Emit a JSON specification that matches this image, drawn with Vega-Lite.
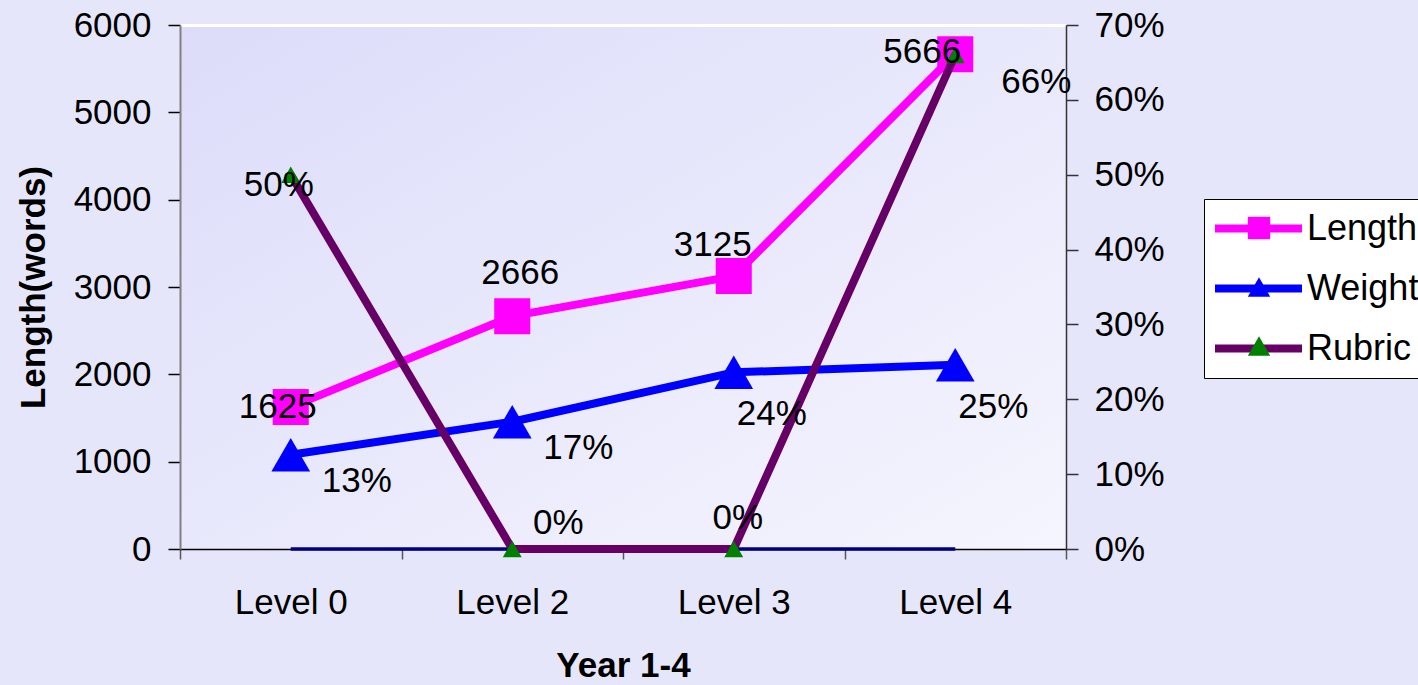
{
  "$schema": "https://vega.github.io/schema/vega-lite/v6.json",
  "autosize": {"type": "none"},
  "padding": {"left": 180, "top": 25, "right": 352, "bottom": 136},
  "width": 886,
  "height": 524,
  "background": "#e6e6fb",
  "datasets": {
    "rows": [
      {"level": "Level 0", "series": "Length", "value": 1625},
      {"level": "Level 2", "series": "Length", "value": 2666},
      {"level": "Level 3", "series": "Length", "value": 3125},
      {"level": "Level 4", "series": "Length", "value": 5666},
      {"level": "Level 0", "series": "Weight", "value": 0.126},
      {"level": "Level 2", "series": "Weight", "value": 0.17},
      {"level": "Level 3", "series": "Weight", "value": 0.236},
      {"level": "Level 4", "series": "Weight", "value": 0.246},
      {"level": "Level 0", "series": "Rubric", "value": 0.5},
      {"level": "Level 2", "series": "Rubric", "value": 0},
      {"level": "Level 3", "series": "Rubric", "value": 0},
      {"level": "Level 4", "series": "Rubric", "value": 0.66},
      {"level": "Level 0", "series": "Baseline", "value": 0},
      {"level": "Level 2", "series": "Baseline", "value": 0},
      {"level": "Level 3", "series": "Baseline", "value": 0},
      {"level": "Level 4", "series": "Baseline", "value": 0}
    ]
  },
  "data": {"name": "rows"},
  "config": {
    "view": {
      "stroke": null,
      "fill": {
        "gradient": "linear", "x1": 0, "y1": 0, "x2": 1, "y2": 1,
        "stops": [{"offset": 0, "color": "#dcdcfa"}, {"offset": 1, "color": "#f5f5fe"}]
      }
    },
    "font": "Liberation Sans",
    "axis": {
      "labelFont": "Liberation Sans", "labelFontSize": 35, "labelColor": "#000",
      "titleFont": "Liberation Sans", "titleFontSize": 35, "titleFontWeight": "bold", "titleColor": "#000",
      "grid": false
    },
    "legend": {"labelFont": "Liberation Sans", "labelFontSize": 36, "labelColor": "#000"},
    "text": {"font": "Liberation Sans", "fontSize": 35, "color": "#000"}
  },
  "encoding": {
    "x": {
      "field": "level", "type": "nominal",
      "sort": ["Level 0", "Level 2", "Level 3", "Level 4"],
      "scale": {"paddingInner": 0, "paddingOuter": 0},
      "axis": {
        "title": "Year 1-4", "labelAngle": 0, "tickBand": "extent",
        "domainColor": "#000", "domainWidth": 1.5, "tickColor": "#555", "tickWidth": 1.5,
        "tickSize": 10, "labelPadding": 26, "titlePadding": 28
      }
    }
  },
  "layer": [
    {
      "encoding": {
        "y": {
          "field": "value", "type": "quantitative",
          "scale": {"domain": [0, 6000], "nice": false},
          "axis": {
            "title": "Length(words)", "orient": "left", "format": "d",
            "values": [0, 1000, 2000, 3000, 4000, 5000, 6000],
            "domainColor": "#808080", "domainWidth": 2,
            "tickColor": "#000", "tickWidth": 1.5, "tickSize": 12,
            "labelPadding": 17, "titlePadding": 22,
            "grid": true, "gridColor": "#ffffff", "gridWidth": 3,
            "gridOpacity": {"condition": {"test": "datum.value === 6000", "value": 1}, "value": 0}
          }
        }
      },
      "layer": [
        {
          "transform": [{"filter": "datum.series === 'Baseline'"}],
          "mark": {"type": "line", "color": "#000080", "strokeWidth": 3.5},
          "encoding": {}
        },
        {
          "transform": [{"filter": "datum.series === 'Length'"}],
          "mark": {"type": "line", "strokeWidth": 8, "strokeCap": "round", "strokeJoin": "round"},
          "encoding": {
            "stroke": {
              "field": "series", "type": "nominal",
              "scale": {"domain": ["Length", "Weight", "Rubric"], "range": ["#ff00ff", "#0000ff", "#660066"]},
              "legend": {
                "title": null, "orient": "none", "legendX": 1024, "legendY": 174,
                "symbolType": "M-1.276,0H4.724", "symbolSize": 841, "symbolStrokeWidth": 8,
                "labelOffset": 55, "padding": 11, "rowPadding": 23,
                "strokeColor": "#000", "fillColor": "#ffffff",
                "values": ["Length", "Weight", "Rubric"], "zindex": 1
              }
            }
          }
        },
        {
          "transform": [{"filter": "datum.series === 'Length'"}],
          "mark": {"type": "point", "filled": true, "size": 1300, "opacity": 1, "strokeWidth": 0},
          "encoding": {
            "fill": {
              "field": "series", "type": "nominal",
              "scale": {"range": ["#ff00ff", "#008000", "#0000ff"]},
              "legend": {
                "title": null, "orient": "none", "legendX": 1050, "legendY": 174,
                "symbolSize": 500, "labelExpr": "''", "labelOffset": 34, "padding": 11, "rowPadding": 23,
                "values": ["Length", "Weight", "Rubric"], "zindex": 2
              }
            },
            "shape": {
              "field": "series", "type": "nominal",
              "scale": {"range": ["square", "triangle-up", "triangle-up"]},
              "legend": {
                "title": null, "orient": "none", "legendX": 1050, "legendY": 174,
                "symbolSize": 500, "labelExpr": "''", "labelOffset": 34, "padding": 11, "rowPadding": 23,
                "values": ["Length", "Weight", "Rubric"], "zindex": 2
              }
            }
          }
        }
      ]
    },
    {
      "encoding": {
        "y": {
          "field": "value", "type": "quantitative",
          "scale": {"domain": [0, 0.7], "nice": false},
          "axis": {
            "title": null, "orient": "right", "format": ".0%",
            "values": [0, 0.1, 0.2, 0.3, 0.4, 0.5, 0.6, 0.7],
            "domainColor": "#333", "domainWidth": 1.5,
            "tickColor": "#333", "tickWidth": 1.5, "tickSize": 12,
            "labelPadding": 16, "grid": false
          }
        }
      },
      "layer": [
        {
          "transform": [{"filter": "datum.series === 'Weight'"}],
          "mark": {"type": "line", "strokeWidth": 8, "strokeCap": "round", "strokeJoin": "round"},
          "encoding": {
            "stroke": {
              "field": "series", "type": "nominal",
              "scale": {"domain": ["Length", "Weight", "Rubric"], "range": ["#ff00ff", "#0000ff", "#660066"]}
            }
          }
        },
        {
          "transform": [{"filter": "datum.series === 'Weight'"}],
          "mark": {"type": "point", "filled": true, "size": 1500, "opacity": 1, "strokeWidth": 0},
          "encoding": {
            "fill": {"field": "series", "type": "nominal"},
            "shape": {"field": "series", "type": "nominal"}
          }
        },
        {
          "transform": [{"filter": "datum.series === 'Rubric'"}],
          "mark": {"type": "line", "strokeWidth": 8, "strokeCap": "round", "strokeJoin": "round"},
          "encoding": {
            "stroke": {
              "field": "series", "type": "nominal",
              "scale": {"domain": ["Length", "Weight", "Rubric"], "range": ["#ff00ff", "#0000ff", "#660066"]}
            }
          }
        },
        {
          "transform": [{"filter": "datum.series === 'Rubric'"}],
          "mark": {"type": "point", "filled": true, "size": 360, "opacity": 1, "strokeWidth": 0},
          "encoding": {
            "fill": {"field": "series", "type": "nominal"},
            "shape": {"field": "series", "type": "nominal"}
          }
        },
        {
          "transform": [{"filter": "datum.series === 'Weight' && (datum.level === 'Level 0' || datum.level === 'Level 2')"}],
          "mark": {"type": "text", "dx": 66, "dy": 26, "baseline": "middle", "align": "center"},
          "encoding": {"text": {"field": "value", "type": "quantitative", "format": ".0%"}}
        },
        {
          "transform": [{"filter": "datum.series === 'Weight' && (datum.level === 'Level 3' || datum.level === 'Level 4')"}],
          "mark": {"type": "text", "dx": 38, "dy": 42, "baseline": "middle", "align": "center"},
          "encoding": {"text": {"field": "value", "type": "quantitative", "format": ".0%"}}
        },
        {
          "transform": [{"filter": "datum.series === 'Rubric' && datum.level === 'Level 0'"}],
          "mark": {"type": "text", "dx": -12, "dy": 10, "baseline": "middle", "align": "center"},
          "encoding": {"text": {"field": "value", "type": "quantitative", "format": ".0%"}}
        },
        {
          "transform": [{"filter": "datum.series === 'Rubric' && datum.level === 'Level 2'"}],
          "mark": {"type": "text", "dx": 46, "dy": -26, "baseline": "middle", "align": "center"},
          "encoding": {"text": {"field": "value", "type": "quantitative", "format": ".0%"}}
        },
        {
          "transform": [{"filter": "datum.series === 'Rubric' && datum.level === 'Level 3'"}],
          "mark": {"type": "text", "dx": 4, "dy": -31, "baseline": "middle", "align": "center"},
          "encoding": {"text": {"field": "value", "type": "quantitative", "format": ".0%"}}
        },
        {
          "transform": [{"filter": "datum.series === 'Rubric' && datum.level === 'Level 4'"}],
          "mark": {"type": "text", "dx": 81, "dy": 27, "baseline": "middle", "align": "center"},
          "encoding": {"text": {"field": "value", "type": "quantitative", "format": ".0%"}}
        }
      ]
    },
    {
      "encoding": {
        "y": {
          "field": "value", "type": "quantitative",
          "scale": {"domain": [0, 6000], "nice": false},
          "axis": null
        },
        "text": {"field": "value", "type": "quantitative", "format": "d"}
      },
      "layer": [
        {
          "transform": [{"filter": "datum.series === 'Length' && datum.level === 'Level 0'"}],
          "mark": {"type": "text", "dx": -13, "dy": 0, "baseline": "middle", "align": "center"}
        },
        {
          "transform": [{"filter": "datum.series === 'Length' && datum.level === 'Level 2'"}],
          "mark": {"type": "text", "dx": 8, "dy": -43, "baseline": "middle", "align": "center"}
        },
        {
          "transform": [{"filter": "datum.series === 'Length' && datum.level === 'Level 3'"}],
          "mark": {"type": "text", "dx": -21, "dy": -31, "baseline": "middle", "align": "center"}
        },
        {
          "transform": [{"filter": "datum.series === 'Length' && datum.level === 'Level 4'"}],
          "mark": {"type": "text", "dx": -33, "dy": -2, "baseline": "middle", "align": "center"}
        }
      ]
    }
  ],
  "resolve": {"scale": {"y": "independent"}}
}
